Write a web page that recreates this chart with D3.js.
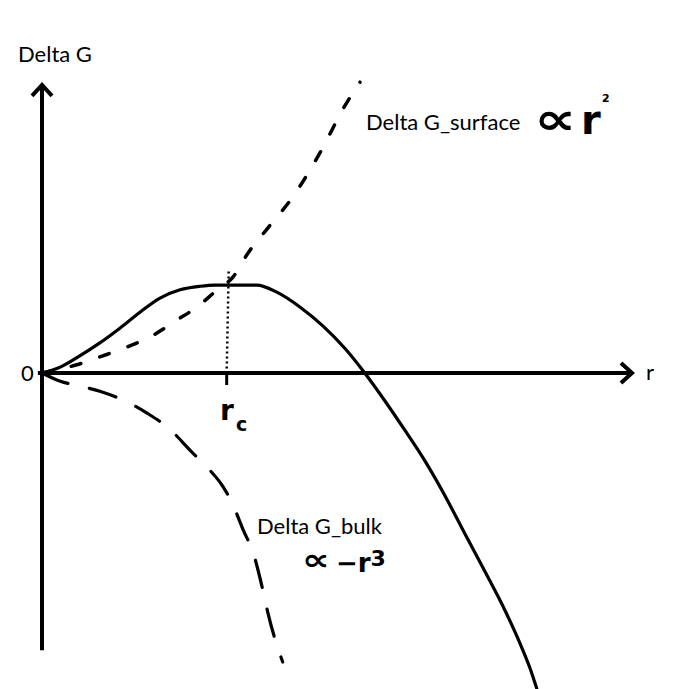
<!DOCTYPE html>
<html><head><meta charset="utf-8">
<script src="https://cdn.jsdelivr.net/npm/d3@7"></script>
<style>body{margin:0;background:#fff}</style>
</head><body>
<svg id="c" width="693" height="689"></svg>
<script>
// r (x) and Delta G (y) values, in arbitrary units
const totalR   = [0,0.31,0.64,0.98,1.32,1.66,2.00,2.34,2.68,2.93,3.64,3.98,4.37,4.76,5.14,5.47,5.81,6.15,6.49,6.83,7.17,7.51,7.85,8.10,8.27,8.39];
const totalG   = [0,0.10,0.29,0.51,0.76,1.03,1.27,1.41,1.47,1.49,1.49,1.37,1.12,0.80,0.41,0,-0.47,-0.97,-1.49,-2.08,-2.73,-3.37,-4.03,-4.58,-5.00,-5.36];
const surfaceR = [0,0.59,1.03,1.44,1.83,2.29,2.63,2.97,3.24,3.49,3.83,4.24,4.71,5.14,5.39];
const surfaceG = [0,0.14,0.29,0.44,0.61,0.90,1.12,1.41,1.63,2.03,2.46,2.97,3.73,4.54,4.93];
const bulkR    = [0,0.31,0.64,0.98,1.44,1.78,2.14,2.54,2.81,3.07,3.22,3.41,3.58,3.75,3.83,4.08];
const bulkG    = [0,-0.14,-0.22,-0.31,-0.49,-0.68,-0.93,-1.34,-1.61,-1.93,-2.20,-2.66,-3.05,-3.71,-4.07,-4.90];
const rc = 3.13, rcTop = 1.72;
const axisXMax = 10, axisYMax = 4.9, axisYMin = -4.7;
const labels = {yAxis:"Delta G", xAxis:"r", zero:"0", surface:"Delta G_surface", bulk:"Delta G_bulk", rc:"r", rcSub:"c"};

const svg = d3.select("#c");
const x = d3.scaleLinear().domain([0,10]).range([42,632]);
const y = d3.scaleLinear().domain([-5.5,5]).range([697.5,78]);
const line = d3.line().x(d=>x(d[0])).y(d=>y(d[1])).curve(d3.curveMonotoneX);
const font = "Lato, 'Open Sans', sans-serif";

// axes
svg.append("line").attr("x1",x(-0.07)).attr("x2",x(axisXMax)).attr("y1",y(0)).attr("y2",y(0))
  .attr("stroke","#000").attr("stroke-width",4);
svg.append("line").attr("x1",x(0)).attr("x2",x(0)).attr("y1",y(axisYMin)).attr("y2",y(axisYMax)+1)
  .attr("stroke","#000").attr("stroke-width",4);
// arrowheads
svg.append("path").attr("d",`M${x(0)-10},${y(axisYMax)+12} L${x(0)},${y(axisYMax)+1} L${x(0)+10},${y(axisYMax)+12}`)
  .attr("fill","none").attr("stroke","#000").attr("stroke-width",4);
svg.append("path").attr("d",`M${x(axisXMax)-11},${y(0)-10} L${x(axisXMax)},${y(0)} L${x(axisXMax)-11},${y(0)+10}`)
  .attr("fill","none").attr("stroke","#000").attr("stroke-width",4);

// curves
svg.append("path").datum(d3.zip(totalR,totalG)).attr("d",line)
  .attr("fill","none").attr("stroke","#000").attr("stroke-width",3.2).attr("stroke-linejoin","round");
svg.append("path").datum(d3.zip(surfaceR,surfaceG)).attr("d",line)
  .attr("fill","none").attr("stroke","#000").attr("stroke-width",3.5).attr("stroke-linecap","round")
  .attr("stroke-dasharray","10,20");
svg.append("path").datum(d3.zip(bulkR,bulkG)).attr("d",line)
  .attr("fill","none").attr("stroke","#000").attr("stroke-width",3.2).attr("stroke-linecap","round")
  .attr("stroke-dasharray","28,22");

// rc dotted line and tick
svg.append("line").attr("x1",x(rc)+2).attr("x2",x(rc)).attr("y1",y(rcTop)).attr("y2",y(0))
  .attr("stroke","#000").attr("stroke-width",2.5).attr("stroke-dasharray","2,3");
svg.append("line").attr("x1",x(rc)).attr("x2",x(rc)).attr("y1",y(0)).attr("y2",y(0)+12)
  .attr("stroke","#000").attr("stroke-width",3);

// texts
const fs = 22;
svg.append("text").attr("x",18).attr("y",62).attr("font-family",font).attr("font-size",fs).text(labels.yAxis);
svg.append("text").attr("x",646).attr("y",380).attr("font-family",font).attr("font-size",fs).text(labels.xAxis);
svg.append("text").attr("x",21).attr("y",381).attr("font-family",font).attr("font-size",fs).text(labels.zero);
svg.append("text").attr("x",366).attr("y",130).attr("font-family",font).attr("font-size",fs).text(labels.surface);
svg.append("text").attr("x",257).attr("y",534).attr("font-family",font).attr("font-size",fs).text(labels.bulk);

// hand-drawn-looking proportionality marks
const hs = "'DejaVu Sans', sans-serif";
svg.append("text").attr("transform","translate(534,134) scale(1.35,1)")
  .attr("font-family",hs).attr("font-weight","bold").attr("font-size",44).text("∝");
const s1 = svg.append("text").attr("x",581).attr("y",134).attr("font-family",hs).attr("font-weight","bold");
s1.append("tspan").attr("font-size",40).text("r");
s1.append("tspan").attr("font-size",18).attr("dy",-26).attr("dx",1).text("²");
svg.append("text").attr("transform","translate(302,570) scale(1.3,1)")
  .attr("font-family",hs).attr("font-weight","bold").attr("font-size",30).text("∝");
const s2 = svg.append("text").attr("x",336).attr("y",572).attr("font-family",hs).attr("font-weight","bold");
s2.append("tspan").attr("font-size",26).text("−r");
s2.append("tspan").attr("font-size",22).attr("dy",-6).text("3");
svg.append("text").attr("x",220).attr("y",420).attr("font-family",hs).attr("font-weight","bold")
  .attr("font-size",28).text(labels.rc);
svg.append("text").attr("x",236).attr("y",431).attr("font-family",hs).attr("font-weight","bold")
  .attr("font-size",19).text(labels.rcSub);
</script>
</body></html>
